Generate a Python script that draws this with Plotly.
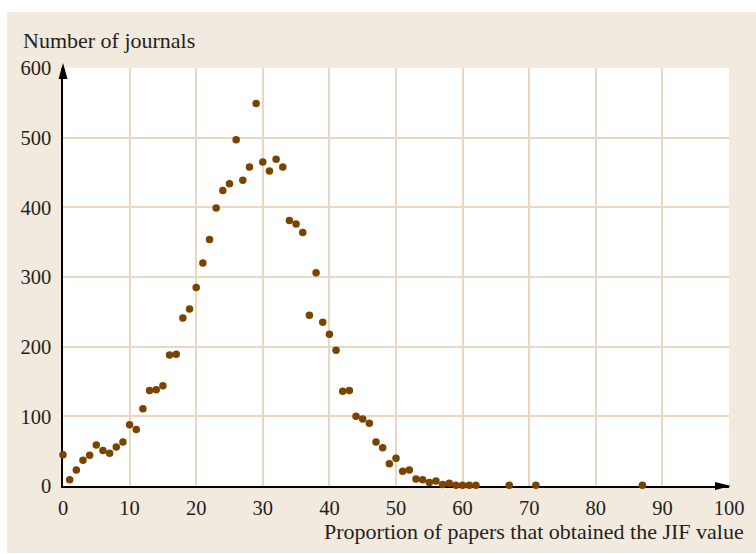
import plotly.graph_objects as go

# Proportion of papers (%) vs. number of journals
proportion = list(range(0, 63)) + [67, 71, 87]
journals = [
    45, 9, 23, 37, 44, 59, 51, 47, 56, 63,
    88, 81, 111, 137, 138, 144, 188, 189, 241, 254,
    285, 320, 354, 399, 424, 434, 497, 439, 458, 549,
    465, 452, 469, 458, 381, 376, 364, 245, 306, 235,
    218, 195, 136, 137, 100, 96, 90, 63, 55, 32,
    40, 21, 23, 10, 9, 5, 7, 2, 4, 1,
    1, 1, 1, 1, 1, 1,
]
x_ticks = list(range(0, 101, 10))
y_ticks = list(range(0, 601, 100))

BEIGE = "#f2eadf"
GRID = "#e9d7c2"
DOT = "#7a4300"
FONT = "Liberation Serif"
TEXT = "#231f20"
FS = 22
TICK_FS = 20.5

W, H = 756, 554
L, R, T, B = 63, 27, 68, 68
pw, ph = W - L - R, H - T - B


def px(x):
    return (x - L) / pw


def py(y):
    return (H - B - y) / ph


fig = go.Figure()
fig.add_trace(go.Scatter(
    x=proportion, y=journals, mode="markers",
    marker=dict(size=7.5, color=DOT, line=dict(width=0)),
    cliponaxis=False, hoverinfo="x+y",
))

axis_common = dict(
    ticks="", showgrid=True, gridcolor=GRID, gridwidth=1.5,
    zeroline=False, showline=True, linecolor="black", linewidth=1.5,
    layer="below traces", fixedrange=True, automargin=False,
    tickfont=dict(family=FONT, size=TICK_FS, color=TEXT),
)

# narrow arrowheads at the axis ends, sized in pixels (paper refs so
# they are not clipped by the plotting area)
x_arrow = dict(type="path", xref="paper", yref="paper", xsizemode="pixel",
               ysizemode="pixel", xanchor=1, yanchor=0,
               path="M2,0 L-14,4 L-14,-4 Z", fillcolor="black",
               line=dict(width=0), layer="above")
y_arrow = dict(type="path", xref="paper", yref="paper", xsizemode="pixel",
               ysizemode="pixel", xanchor=0, yanchor=1,
               path="M0,5 L-4.5,-11 L4.5,-11 Z", fillcolor="black",
               line=dict(width=0), layer="above")

fig.update_layout(
    width=W, height=H,
    margin=dict(l=L, r=R, t=T, b=B, autoexpand=False),
    paper_bgcolor="white",
    plot_bgcolor="white",
    showlegend=False,
    font=dict(family=FONT, size=FS, color=TEXT),
    xaxis=dict(range=[0, 100], tickvals=x_ticks, ticklabelstandoff=3,
               **axis_common),
    yaxis=dict(range=[0, 600], tickvals=y_ticks, ticklabelstandoff=6,
               **axis_common),
    shapes=[
        dict(type="rect", xref="paper", yref="paper",
             x0=px(7), x1=px(W), y0=py(553), y1=py(12),
             fillcolor=BEIGE, line=dict(width=0), layer="below"),
        dict(type="rect", xref="paper", yref="paper",
             x0=0, x1=1, y0=0, y1=1,
             fillcolor="white", line=dict(width=0), layer="below"),
        x_arrow,
        y_arrow,
    ],
    annotations=[
        dict(text="Number of journals", xref="paper", yref="paper",
             x=px(21), y=py(40), xanchor="left", yanchor="middle",
             showarrow=False, font=dict(size=FS)),
        dict(text="Proportion of papers that obtained the JIF value",
             xref="paper", yref="paper", x=px(746), y=py(531),
             xanchor="right", yanchor="middle", showarrow=False,
             font=dict(size=FS)),
    ],
)

fig.write_html("out.html")
